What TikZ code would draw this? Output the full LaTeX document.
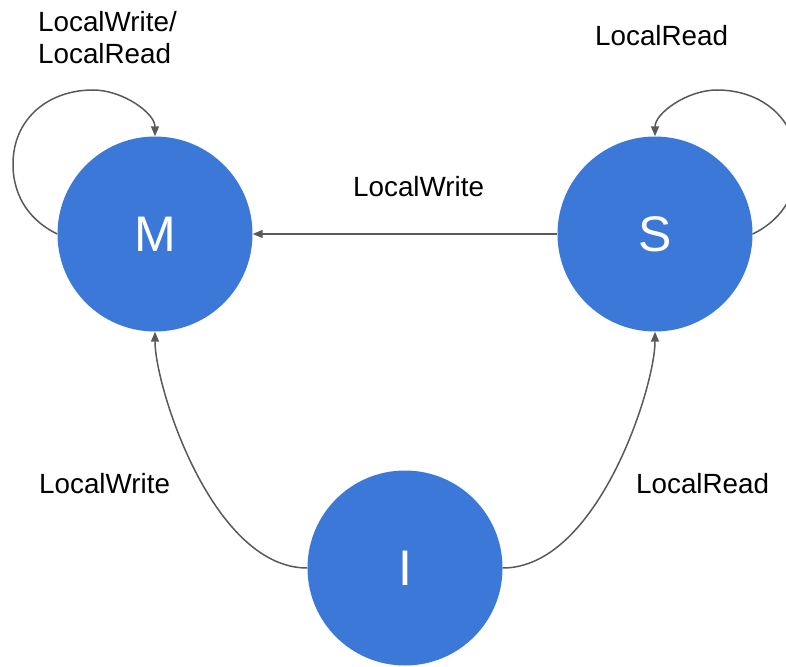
\documentclass[tikz,border=0pt]{standalone}
\usepackage{fontspec}
\setmainfont{Liberation Sans}
\usetikzlibrary{arrows.meta}
\definecolor{stateblue}{HTML}{3C78D8}
\definecolor{edgegray}{HTML}{595959}
\begin{document}
\begin{tikzpicture}[x=1pt,y=-1pt,
  state/.style={circle,fill=stateblue,minimum size=195pt,inner sep=0pt,
    text=white,font=\fontsize{50}{60}\selectfont},
  edge/.style={draw=edgegray,line width=1.5pt,
    -{Triangle[length=10pt,width=8pt]}},
  lbl/.style={font=\fontsize{27.8}{32}\selectfont,inner sep=0pt,
    anchor=base west,align=left}]
\clip (0,0) rectangle (786,666);
\useasboundingbox (0,0) rectangle (786,666);

% states
\node[state] (M) at (155,234) {M};
\node[state] (S) at (655,234) {S};
\node[state] (I) at (405,568) {I};

% waypoints of the self loops
\coordinate (mL) at (13,164);
\coordinate (mT) at (93,90);
\coordinate (sR) at (797,164);
\coordinate (sT) at (717,90);

% transitions
\draw[edge] (S.west) -- (M.east);
\draw[edge] (I.west) .. controls +(-95,0) and +(0,55) .. (M.south);
\draw[edge] (I.east) .. controls +(95,0) and +(0,55) .. (S.south);
\draw[edge] (M.west) .. controls +(-25,-12) and +(0,35) .. (mL)
  .. controls +(0,-45) and +(-45,0) .. (mT)
  .. controls +(30,0) and +(0,-23) .. (M.north);
\draw[edge] (S.east) .. controls +(25,-12) and +(0,35) .. (sR)
  .. controls +(0,-45) and +(45,0) .. (sT)
  .. controls +(-30,0) and +(0,-23) .. (S.north);

% transition labels (multi-line label is anchored on its last baseline)
\node[lbl] (lblMM) at (38,64) {LocalWrite/\\LocalRead};
\node[lbl] (lblSS) at (595,46) {LocalRead};
\node[lbl] (lblSM) at (353,196) {LocalWrite};
\node[lbl] (lblIM) at (39,493) {LocalWrite};
\node[lbl] (lblIS) at (636,493) {LocalRead};
\end{tikzpicture}
\end{document}
